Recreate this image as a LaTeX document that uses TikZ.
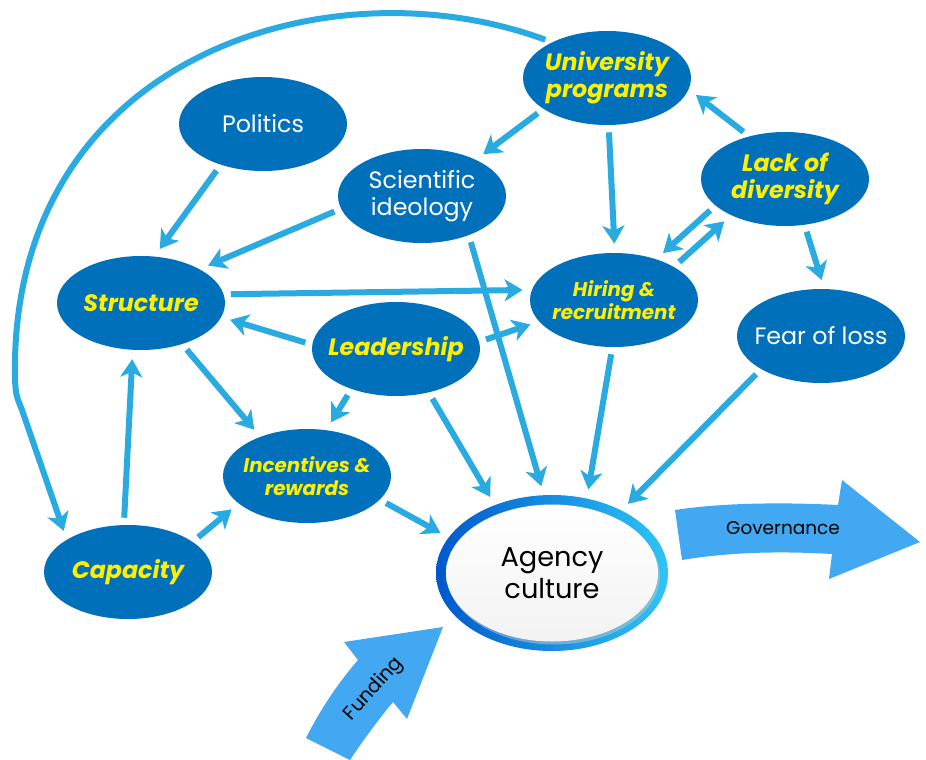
\documentclass[tikz,border=0pt]{standalone}
\usepackage{fontspec}
\setmainfont{Poppins}
\usetikzlibrary{shapes.geometric,arrows.meta,shadows}

\definecolor{nodeblue}{RGB}{0,112,187}
\definecolor{keyyellow}{RGB}{255,240,0}
\definecolor{linkblue}{RGB}{41,171,226}
\definecolor{blockblue}{RGB}{66,168,242}
\definecolor{ringdark}{RGB}{0,88,204}
\definecolor{ringlight}{RGB}{48,196,244}

\tikzset{
  factor/.style={ellipse, fill=nodeblue, text=white, inner sep=-5mm,
    minimum width=33.6mm, minimum height=18.8mm, align=center,
    font=\fontsize{13.5}{15.5}\selectfont},
  key/.style={factor, text=keyyellow,
    font=\fontsize{13.5}{15.5}\selectfont\bfseries\itshape},
  keysmall/.style={factor, text=keyyellow,
    font=\fontsize{11.3}{13}\selectfont\bfseries\itshape},
  link/.style={draw=linkblue, line width=1.2mm,
    -{Stealth[length=3.6mm,width=4.4mm,inset=1mm]},
    shorten <=1.4mm, shorten >=1.8mm},
  block/.style={fill=blockblue},
}

\begin{document}
\begin{tikzpicture}[x=0.2mm,y=-0.2mm]
  \useasboundingbox (0,0) rectangle (926,760);

  % factors
  \node[factor] (pol) at (263,124) {Politics};
  \node[factor] (sci) at (422,196) {Scientific\\ideology};
  \node[key] (uni) at (607,78) {University\\programs};
  \node[key] (lack) at (785,179) {Lack of\\diversity};
  \node[keysmall] (hire) at (614,300) {Hiring \&\\recruitment};
  \node[factor] (fear) at (821,336) {Fear of loss};
  \node[key] (str) at (141,303) {Structure};
  \node[key] (lead) at (396,349) {Leadership};
  \node[keysmall] (inc) at (307,476) {Incentives \&\\rewards};
  \node[key] (cap) at (128,572) {Capacity};

  % agency culture
  \node[ellipse, left color=ringdark, right color=ringlight, inner sep=0pt,
    minimum width=46.4mm, minimum height=31.2mm] (agc) at (552,573) {};
  \node[ellipse, top color=white, bottom color=gray!10, inner sep=-5mm,
    drop shadow={shadow xshift=0.4mm, shadow yshift=-0.6mm, fill=gray!45},
    minimum width=42.4mm, minimum height=27.4mm, align=center,
    font=\fontsize{15.5}{18}\selectfont] (agctext) at (agc) {Agency\\culture};

  % links
  \draw[link] (pol.224) -- (str.74);
  \draw[link] (sci.189) -- (str.30);
  \draw[link] (uni.206) -- (sci.34);
  \draw[link] (uni.272) -- (hire.89);
  \draw[link] (lack.130) -- (uni.352);
  \draw[link] (lack.201) -- (hire.44);
  \draw[link] (hire.29) -- (lack.214);
  \draw[link] (lack.293) -- (fear.86);
  \draw[link] (str.6) -- (hire.173);
  \draw[link] (lead.177) -- (str.350);
  \draw[link] (lead.5) -- (hire.196);
  \draw[link] (sci.320) -- (agc.96);
  \draw[link] (hire.268) -- (agc.65);
  \draw[link] (fear.209) -- (agc.42);
  \draw[link] (lead.307) -- (agc.130);
  \draw[link] (lead.222) -- (inc.67);
  \draw[link] (str.315) -- (inc.140);
  \draw[link] (cap.95) -- (str.260);
  \draw[link] (cap.25) -- (inc.202);
  \draw[link] (inc.342) -- (agc.161);
  \draw[link] (uni.147) .. controls (330,-40) and (8,55) .. (15,380)
    .. controls (16,395) .. (22,410) -- (cap.152);

  % big arrows
  \fill[block] (675,510) .. controls (720,503) and (780,502) .. (838,505)
    -- (842,480) -- (920,542) -- (829,579) -- (832,554)
    .. controls (780,551) and (730,552) .. (682,560) -- cycle;
  \node[font=\fontsize{10.5}{12}\selectfont] (gov) at (783,528) {Governance};
  \fill[block] (306,738) .. controls (320,710) and (338,683) .. (358,660)
    -- (344,642) -- (443,627) -- (407,719) -- (393,702)
    .. controls (378,720) and (362,742) .. (350,760) -- cycle;
  \node[font=\fontsize{11}{12}\selectfont, rotate=48, inner sep=0pt] (fund) at (374,689) {Funding};
\end{tikzpicture}
\end{document}
